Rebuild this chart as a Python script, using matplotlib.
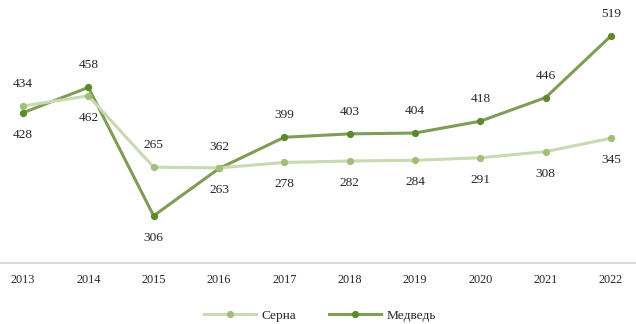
import matplotlib
matplotlib.use("Agg")
import matplotlib.pyplot as plt
from matplotlib.lines import Line2D

years = ["2013", "2014", "2015", "2016", "2017", "2018", "2019", "2020", "2021", "2022"]
serna = [434, 462, 265, 263, 278, 282, 284, 291, 308, 345]
medved = [428, 458, 306, 362, 399, 403, 404, 418, 446, 519]
serna_label_side = [1, -1, 1, -1, -1, -1, -1, -1, -1, -1]
medved_label_side = [-1, 1, -1, 1, 1, 1, 1, 1, 1, 1]

light_line, light_marker = "#c9d9b1", "#a0bf78"
dark_line, dark_marker = "#7f9d56", "#5b8a2a"

plt.rcParams["font.family"] = ["Liberation Serif", "DejaVu Serif"]

fig = plt.figure(figsize=(6.36, 3.24), dpi=100)
ax_m = fig.add_axes([0.0, 0.188, 1.0, 0.782])   # primary: Медведь
ax_s = ax_m.twinx()                               # secondary: Серна

x = list(range(len(years)))
lw, ms = 2.2, 4.2

ax_s.plot(x, serna, color=light_line, lw=lw, marker="o", ms=ms,
          mfc=light_marker, mec=light_marker, zorder=2)
ax_m.plot(x, medved, color=dark_line, lw=lw, marker="o", ms=ms,
          mfc=dark_marker, mec=dark_marker, zorder=3)

ax_m.set_ylim(250, 550)
ax_s.set_ylim(0, 700)
ax_m.set_xlim(-0.352, 9.383)

for xi, v, side in zip(x, serna, serna_label_side):
    ax_s.annotate(str(v), (xi, v), xytext=(0, 15.8 * side), textcoords="offset points",
                  ha="center", va="center", fontsize=9.6, color="#262626")
for xi, v, side in zip(x, medved, medved_label_side):
    ax_m.annotate(str(v), (xi, v), xytext=(0, 15.8 * side), textcoords="offset points",
                  ha="center", va="center", fontsize=9.6, color="#262626")

for a in (ax_m, ax_s):
    for s in ("top", "left", "right"):
        a.spines[s].set_visible(False)
    a.set_yticks([])
    a.patch.set_visible(False)
ax_s.spines["bottom"].set_visible(False)
ax_m.spines["bottom"].set_color("#d9d9d9")
ax_m.spines["bottom"].set_linewidth(1.4)
ax_m.set_xticks(x)
ax_m.set_xticklabels(years, fontsize=8.8, color="#262626")
ax_m.tick_params(axis="x", length=0, pad=7.5)
ax_s.tick_params(axis="x", length=0)

handles = [
    Line2D([], [], color=light_line, lw=lw, marker="o", ms=ms, mfc=light_marker, mec=light_marker),
    Line2D([], [], color=dark_line, lw=lw, marker="o", ms=ms, mfc=dark_marker, mec=dark_marker),
]
fig.legend(handles, ["Серна", "Медведь"], loc="center", bbox_to_anchor=(0.503, 0.025),
           ncol=2, frameon=False, fontsize=9.6, handlelength=3.9, columnspacing=2.5,
           handletextpad=0.38, labelcolor="#262626")

fig.savefig("out.png", dpi=100)
